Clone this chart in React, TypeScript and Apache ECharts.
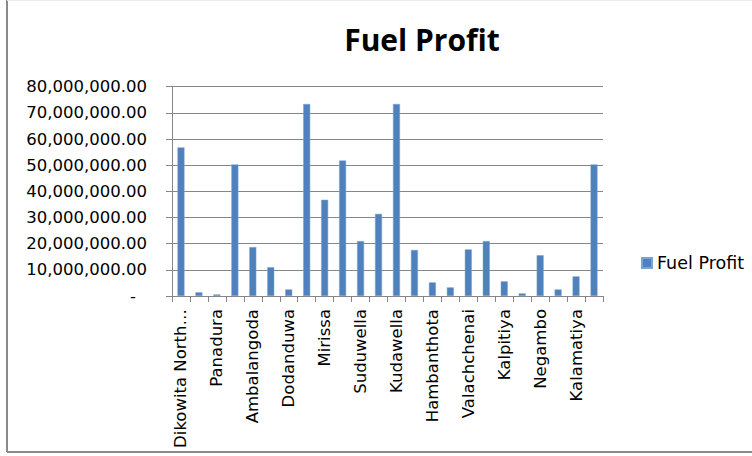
import React, { useEffect, useRef } from "react";
import * as echarts from "echarts";

const categories: string[] = [
  "Dikowita North Harbour", "Mutwal", "Panadura", "Beruwala", "Ambalangoda", "Hikkaduwa",
  "Dodanduwa", "Galle", "Mirissa", "Puranawella", "Suduwella", "Nilwella",
  "Kudawella", "Tangalle", "Hambanthota", "Kirinda", "Valachchenai", "Trincomalee",
  "Kalpitiya", "Chilaw", "Negambo", "Oluvil", "Kalamatiya", "Cod Bay",
];

const fuelProfit: number[] = [
  56800000, 1400000, 600000, 50300000, 18700000, 11000000,
  2500000, 73400000, 36800000, 51800000, 21000000, 31400000,
  73400000, 17600000, 5200000, 3300000, 17800000, 21000000,
  5600000, 1000000, 15600000, 2500000, 7500000, 50300000,
];

const seriesName = "Fuel Profit";
const titleText = "Fuel Profit";

export default function App() {
  const ref = useRef<HTMLDivElement>(null);
  useEffect(() => {
    if (!ref.current) return;
    const chart = echarts.init(ref.current, null, { renderer: "svg" });
    const gray = "#868686";
    chart.setOption({
      animation: false,
      backgroundColor: "#ffffff",
      title: {
        text: titleText,
        left: 417,
        textAlign: "center",
        top: 19,
        textStyle: { fontFamily: "Open Sans", fontWeight: "bold", fontSize: 30, color: "#000" },
      },
      legend: {
        data: [seriesName],
        left: 636,
        top: 249,
        icon: "rect",
        itemWidth: 10,
        itemHeight: 10,
        itemGap: 5,
        textStyle: { fontFamily: "DejaVu Sans", fontSize: 17.5, color: "#000", padding: [0, 0, 0, 0] },
      },
      grid: { left: 172, right: 149, top: 86.7, bottom: 160, containLabel: false },
      xAxis: {
        type: "category",
        data: categories,
        axisLine: { lineStyle: { color: gray, width: 1 } },
        axisTick: { show: true, interval: 0, length: 6, lineStyle: { color: gray } },
        axisLabel: {
          interval: 1,
          rotate: 90,
          margin: 13,
          fontFamily: "DejaVu Sans",
          fontSize: 16.5,
          color: "#000",
          width: 148,
          overflow: "truncate",
          ellipsis: "…",
        },
      },
      yAxis: {
        type: "value",
        min: 0,
        max: 80000000,
        interval: 10000000,
        axisLine: { show: true, lineStyle: { color: gray, width: 1 } },
        axisTick: { show: true, length: 6, lineStyle: { color: gray } },
        splitLine: { lineStyle: { color: gray, width: 1 } },
        axisLabel: {
          margin: 25,
          fontFamily: "DejaVu Sans",
          fontSize: 16.5,
          color: "#000",
          formatter: (v: number) =>
            v === 0
              ? "{z|-}"
              : v.toLocaleString("en-US", { minimumFractionDigits: 2, maximumFractionDigits: 2 }),
          rich: { z: { padding: [0, 11, 0, 0], fontFamily: "DejaVu Sans", fontSize: 16.5, color: "#000" } },
        },
      },
      series: [
        {
          name: seriesName,
          type: "bar",
          data: fuelProfit,
          barWidth: 7,
          itemStyle: { color: "#4F81BD", borderColor: "#7fa3d1", borderWidth: 0.5 },
        },
      ],
      graphic: [
        { type: "line", shape: { x1: 7, y1: 0, x2: 7, y2: 452 }, style: { stroke: "#8a8a8a", lineWidth: 2 } },
        { type: "line", shape: { x1: 7, y1: 452, x2: 752, y2: 452 }, style: { stroke: "#8a8a8a", lineWidth: 2 } },
        { type: "line", shape: { x1: 7, y1: 0.5, x2: 752, y2: 0.5 }, style: { stroke: "#ececec", lineWidth: 1 } },
      ],
    });
    return () => chart.dispose();
  }, []);
  return (
    <div
      ref={ref}
      style={{ position: "fixed", left: 0, top: 0, width: 752, height: 456 }}
    />
  );
}
